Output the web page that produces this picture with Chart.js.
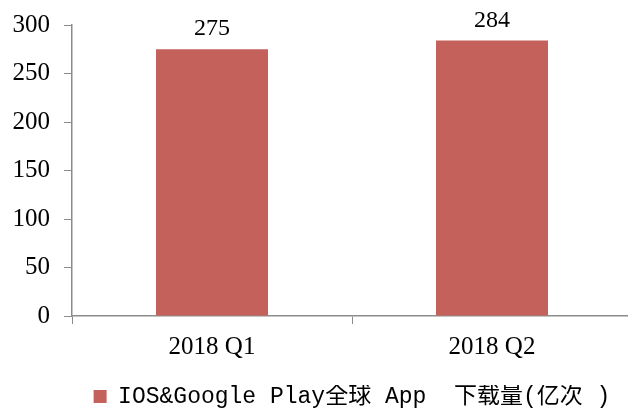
<!DOCTYPE html>
<html>
<head>
<meta charset="utf-8">
<script src="https://cdn.jsdelivr.net/npm/chart.js@4"></script>
<style>
  html, body { margin: 0; padding: 0; background: #fff; overflow: hidden; }
  #wrap { width: 632px; height: 410px; }
</style>
</head>
<body>
<div id="wrap"><canvas id="chart"></canvas></div>
<script>
// chart data
const categories = ["2018 Q1", "2018 Q2"];
const downloads = [275, 284];
const seriesName = "IOS&Google Play全球 App  下载量(亿次 )";
const yTicks = [0, 50, 100, 150, 200, 250, 300];

const serif = "'Liberation Serif', 'Times New Roman', serif";
const axisGray = "#8c8c8c";

// draw the value above each bar
const valueLabels = {
  id: "valueLabels",
  afterDatasetsDraw(chart) {
    const ctx = chart.ctx;
    const meta = chart.getDatasetMeta(0);
    ctx.save();
    ctx.font = "24px " + serif;
    ctx.fillStyle = "#000";
    ctx.textAlign = "center";
    ctx.textBaseline = "alphabetic";
    meta.data.forEach(function (bar, i) {
      ctx.fillText(String(downloads[i]), bar.x, bar.y - 14);
    });
    ctx.restore();
  }
};

new Chart(document.getElementById("chart"), {
  type: "bar",
  data: {
    labels: categories,
    datasets: [{
      label: seriesName,
      data: downloads,
      backgroundColor: "#c3615a",
      categoryPercentage: 1,
      barPercentage: 0.4
    }]
  },
  options: {
    responsive: true,
    maintainAspectRatio: false,
    animation: false,
    layout: { padding: { top: 25, left: 0, right: 0, bottom: -8 } },
    scales: {
      y: {
        min: 0,
        max: 300,
        afterBuildTicks: function (axis) {
          axis.ticks = yTicks.map((v) => ({ value: v }));
        },
        afterFit: function (axis) {
          axis.width = 72;
          axis.paddingTop = 0;
          axis.paddingBottom = 0;
        },
        grid: { drawOnChartArea: false, drawTicks: true, tickLength: 8, color: axisGray },
        border: { color: axisGray, width: 1.5 },
        ticks: { color: "#000", font: { family: serif, size: 25 }, padding: 14 }
      },
      x: {
        offset: true,
        afterFit: function (axis) { axis.height += 15; },
        grid: { offset: true, drawOnChartArea: false, drawTicks: true, tickLength: 8, color: axisGray },
        border: { color: axisGray, width: 1.5 },
        ticks: { color: "#000", font: { family: serif, size: 25 }, padding: 8 }
      }
    },
    plugins: {
      tooltip: { enabled: false },
      legend: {
        position: "bottom",
        fullSize: false,
        labels: {
          color: "#000",
          boxWidth: 13,
          boxHeight: 13,
          padding: 0,
          font: { family: "'Liberation Mono', 'Noto Sans CJK SC', monospace", size: 23 }
        }
      }
    }
  },
  plugins: [valueLabels]
});
</script>
</body>
</html>
